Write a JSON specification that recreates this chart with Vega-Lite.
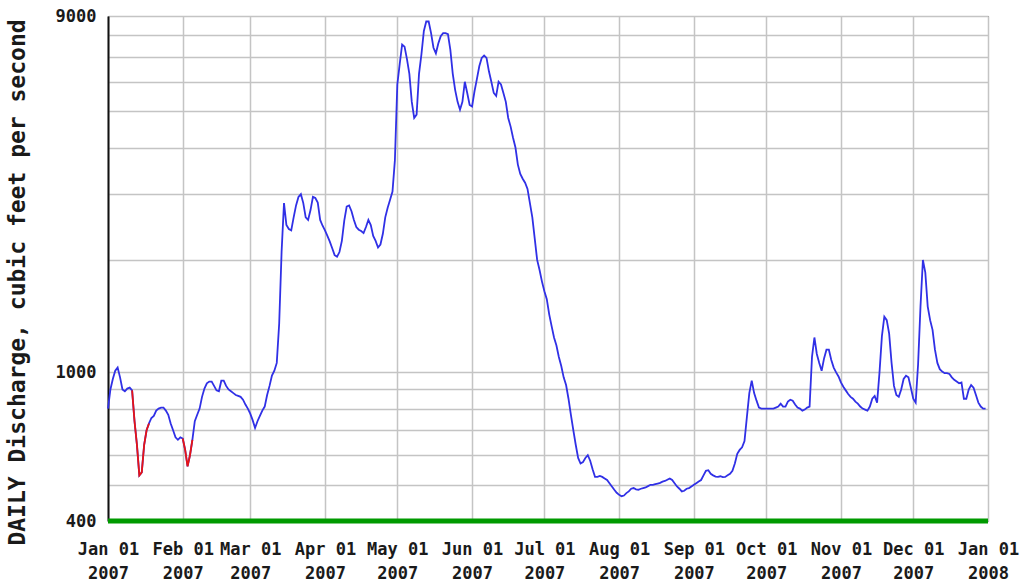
{
 "$schema": "https://vega.github.io/schema/vega-lite/v6.json",
 "width": 880,
 "height": 505,
 "autosize": "none",
 "padding": {"left": 108, "top": 16, "right": 34, "bottom": 66},
 "background": "white",
 "config": {"view": {"stroke": "#444", "strokeWidth": 1}, "font": "DejaVu Sans Mono"},
 "data": {"values": [
{"date":"2007-01-01","cfs":800},{"date":"2007-01-02","cfs":900},{"date":"2007-01-03","cfs":960},{"date":"2007-01-04","cfs":1010},{"date":"2007-01-05","cfs":1030},{"date":"2007-01-06","cfs":970},{"date":"2007-01-07","cfs":900},{"date":"2007-01-08","cfs":890},{"date":"2007-01-09","cfs":905},{"date":"2007-01-10","cfs":910},
{"date":"2007-01-11","cfs":895,"seg":"a"},{"date":"2007-01-12","cfs":740,"seg":"a"},{"date":"2007-01-13","cfs":640,"seg":"a"},{"date":"2007-01-14","cfs":530,"seg":"a"},{"date":"2007-01-15","cfs":540,"seg":"a"},{"date":"2007-01-16","cfs":640,"seg":"a"},{"date":"2007-01-17","cfs":700,"seg":"a"},{"date":"2007-01-18","cfs":730,"seg":"a"},{"date":"2007-01-19","cfs":755},{"date":"2007-01-20","cfs":765},
{"date":"2007-01-21","cfs":790},{"date":"2007-01-22","cfs":800},{"date":"2007-01-23","cfs":805},{"date":"2007-01-24","cfs":805},{"date":"2007-01-25","cfs":790},{"date":"2007-01-26","cfs":770},{"date":"2007-01-27","cfs":730},{"date":"2007-01-28","cfs":700},{"date":"2007-01-29","cfs":670},{"date":"2007-01-30","cfs":660},{"date":"2007-01-31","cfs":670},
{"date":"2007-02-01","cfs":665,"seg":"b"},{"date":"2007-02-02","cfs":620,"seg":"b"},{"date":"2007-02-03","cfs":560,"seg":"b"},{"date":"2007-02-04","cfs":600,"seg":"b"},{"date":"2007-02-05","cfs":660,"seg":"b"},{"date":"2007-02-06","cfs":740},{"date":"2007-02-07","cfs":770},{"date":"2007-02-08","cfs":800},{"date":"2007-02-09","cfs":860},{"date":"2007-02-10","cfs":905},
{"date":"2007-02-11","cfs":935},{"date":"2007-02-12","cfs":945},{"date":"2007-02-13","cfs":945},{"date":"2007-02-14","cfs":920},{"date":"2007-02-15","cfs":895},{"date":"2007-02-16","cfs":890},{"date":"2007-02-17","cfs":950},{"date":"2007-02-18","cfs":950},{"date":"2007-02-19","cfs":920},{"date":"2007-02-20","cfs":900},
{"date":"2007-02-21","cfs":890},{"date":"2007-02-22","cfs":880},{"date":"2007-02-23","cfs":870},{"date":"2007-02-24","cfs":865},{"date":"2007-02-25","cfs":860},{"date":"2007-02-26","cfs":845},{"date":"2007-02-27","cfs":820},{"date":"2007-02-28","cfs":800},
{"date":"2007-03-01","cfs":775},{"date":"2007-03-02","cfs":745},{"date":"2007-03-03","cfs":710},{"date":"2007-03-04","cfs":740},{"date":"2007-03-05","cfs":765},{"date":"2007-03-06","cfs":790},{"date":"2007-03-07","cfs":810},{"date":"2007-03-08","cfs":870},{"date":"2007-03-09","cfs":920},{"date":"2007-03-10","cfs":980},
{"date":"2007-03-11","cfs":1010},{"date":"2007-03-12","cfs":1060},{"date":"2007-03-13","cfs":1350},{"date":"2007-03-14","cfs":2100},{"date":"2007-03-15","cfs":2840},{"date":"2007-03-16","cfs":2480},{"date":"2007-03-17","cfs":2420},{"date":"2007-03-18","cfs":2400},{"date":"2007-03-19","cfs":2600},{"date":"2007-03-20","cfs":2800},
{"date":"2007-03-21","cfs":2950},{"date":"2007-03-22","cfs":3000},{"date":"2007-03-23","cfs":2840},{"date":"2007-03-24","cfs":2600},{"date":"2007-03-25","cfs":2560},{"date":"2007-03-26","cfs":2720},{"date":"2007-03-27","cfs":2950},{"date":"2007-03-28","cfs":2930},{"date":"2007-03-29","cfs":2850},{"date":"2007-03-30","cfs":2560},{"date":"2007-03-31","cfs":2470},
{"date":"2007-04-01","cfs":2400},{"date":"2007-04-02","cfs":2320},{"date":"2007-04-03","cfs":2240},{"date":"2007-04-04","cfs":2150},{"date":"2007-04-05","cfs":2060},{"date":"2007-04-06","cfs":2040},{"date":"2007-04-07","cfs":2100},{"date":"2007-04-08","cfs":2250},{"date":"2007-04-09","cfs":2550},{"date":"2007-04-10","cfs":2780},
{"date":"2007-04-11","cfs":2800},{"date":"2007-04-12","cfs":2700},{"date":"2007-04-13","cfs":2560},{"date":"2007-04-14","cfs":2450},{"date":"2007-04-15","cfs":2410},{"date":"2007-04-16","cfs":2390},{"date":"2007-04-17","cfs":2360},{"date":"2007-04-18","cfs":2450},{"date":"2007-04-19","cfs":2560},{"date":"2007-04-20","cfs":2480},
{"date":"2007-04-21","cfs":2320},{"date":"2007-04-22","cfs":2250},{"date":"2007-04-23","cfs":2160},{"date":"2007-04-24","cfs":2200},{"date":"2007-04-25","cfs":2350},{"date":"2007-04-26","cfs":2600},{"date":"2007-04-27","cfs":2760},{"date":"2007-04-28","cfs":2900},{"date":"2007-04-29","cfs":3050},{"date":"2007-04-30","cfs":3700},
{"date":"2007-05-01","cfs":5900},{"date":"2007-05-02","cfs":6700},{"date":"2007-05-03","cfs":7550},{"date":"2007-05-04","cfs":7450},{"date":"2007-05-05","cfs":6900},{"date":"2007-05-06","cfs":6300},{"date":"2007-05-07","cfs":5300},{"date":"2007-05-08","cfs":4800},{"date":"2007-05-09","cfs":4900},{"date":"2007-05-10","cfs":6300},
{"date":"2007-05-11","cfs":7100},{"date":"2007-05-12","cfs":8200},{"date":"2007-05-13","cfs":8700},{"date":"2007-05-14","cfs":8700},{"date":"2007-05-15","cfs":8100},{"date":"2007-05-16","cfs":7400},{"date":"2007-05-17","cfs":7150},{"date":"2007-05-18","cfs":7600},{"date":"2007-05-19","cfs":7950},{"date":"2007-05-20","cfs":8100},
{"date":"2007-05-21","cfs":8100},{"date":"2007-05-22","cfs":8050},{"date":"2007-05-23","cfs":7300},{"date":"2007-05-24","cfs":6300},{"date":"2007-05-25","cfs":5700},{"date":"2007-05-26","cfs":5300},{"date":"2007-05-27","cfs":5050},{"date":"2007-05-28","cfs":5300},{"date":"2007-05-29","cfs":6000},{"date":"2007-05-30","cfs":5600},{"date":"2007-05-31","cfs":5200},
{"date":"2007-06-01","cfs":5150},{"date":"2007-06-02","cfs":5650},{"date":"2007-06-03","cfs":6100},{"date":"2007-06-04","cfs":6600},{"date":"2007-06-05","cfs":6950},{"date":"2007-06-06","cfs":7050},{"date":"2007-06-07","cfs":6950},{"date":"2007-06-08","cfs":6400},{"date":"2007-06-09","cfs":6000},{"date":"2007-06-10","cfs":5600},
{"date":"2007-06-11","cfs":5500},{"date":"2007-06-12","cfs":6000},{"date":"2007-06-13","cfs":5900},{"date":"2007-06-14","cfs":5600},{"date":"2007-06-15","cfs":5300},{"date":"2007-06-16","cfs":4800},{"date":"2007-06-17","cfs":4550},{"date":"2007-06-18","cfs":4250},{"date":"2007-06-19","cfs":4000},{"date":"2007-06-20","cfs":3600},
{"date":"2007-06-21","cfs":3400},{"date":"2007-06-22","cfs":3300},{"date":"2007-06-23","cfs":3220},{"date":"2007-06-24","cfs":3100},{"date":"2007-06-25","cfs":2840},{"date":"2007-06-26","cfs":2600},{"date":"2007-06-27","cfs":2280},{"date":"2007-06-28","cfs":2000},{"date":"2007-06-29","cfs":1880},{"date":"2007-06-30","cfs":1750},
{"date":"2007-07-01","cfs":1650},{"date":"2007-07-02","cfs":1570},{"date":"2007-07-03","cfs":1430},{"date":"2007-07-04","cfs":1330},{"date":"2007-07-05","cfs":1240},{"date":"2007-07-06","cfs":1180},{"date":"2007-07-07","cfs":1100},{"date":"2007-07-08","cfs":1040},{"date":"2007-07-09","cfs":970},{"date":"2007-07-10","cfs":925},
{"date":"2007-07-11","cfs":850},{"date":"2007-07-12","cfs":770},{"date":"2007-07-13","cfs":700},{"date":"2007-07-14","cfs":640},{"date":"2007-07-15","cfs":590},{"date":"2007-07-16","cfs":570},{"date":"2007-07-17","cfs":575},{"date":"2007-07-18","cfs":590},{"date":"2007-07-19","cfs":600},{"date":"2007-07-20","cfs":580},
{"date":"2007-07-21","cfs":550},{"date":"2007-07-22","cfs":525},{"date":"2007-07-23","cfs":525},{"date":"2007-07-24","cfs":528},{"date":"2007-07-25","cfs":525},{"date":"2007-07-26","cfs":520},{"date":"2007-07-27","cfs":515},{"date":"2007-07-28","cfs":505},{"date":"2007-07-29","cfs":495},{"date":"2007-07-30","cfs":485},{"date":"2007-07-31","cfs":476},
{"date":"2007-08-01","cfs":470},{"date":"2007-08-02","cfs":466},{"date":"2007-08-03","cfs":468},{"date":"2007-08-04","cfs":475},{"date":"2007-08-05","cfs":480},{"date":"2007-08-06","cfs":488},{"date":"2007-08-07","cfs":490},{"date":"2007-08-08","cfs":486},{"date":"2007-08-09","cfs":485},{"date":"2007-08-10","cfs":488},
{"date":"2007-08-11","cfs":490},{"date":"2007-08-12","cfs":492},{"date":"2007-08-13","cfs":496},{"date":"2007-08-14","cfs":500},{"date":"2007-08-15","cfs":500},{"date":"2007-08-16","cfs":502},{"date":"2007-08-17","cfs":504},{"date":"2007-08-18","cfs":506},{"date":"2007-08-19","cfs":510},{"date":"2007-08-20","cfs":512},
{"date":"2007-08-21","cfs":516},{"date":"2007-08-22","cfs":520},{"date":"2007-08-23","cfs":515},{"date":"2007-08-24","cfs":505},{"date":"2007-08-25","cfs":495},{"date":"2007-08-26","cfs":488},{"date":"2007-08-27","cfs":480},{"date":"2007-08-28","cfs":482},{"date":"2007-08-29","cfs":488},{"date":"2007-08-30","cfs":490},{"date":"2007-08-31","cfs":495},
{"date":"2007-09-01","cfs":500},{"date":"2007-09-02","cfs":505},{"date":"2007-09-03","cfs":510},{"date":"2007-09-04","cfs":515},{"date":"2007-09-05","cfs":530},{"date":"2007-09-06","cfs":545},{"date":"2007-09-07","cfs":547},{"date":"2007-09-08","cfs":535},{"date":"2007-09-09","cfs":530},{"date":"2007-09-10","cfs":526},
{"date":"2007-09-11","cfs":525},{"date":"2007-09-12","cfs":527},{"date":"2007-09-13","cfs":524},{"date":"2007-09-14","cfs":525},{"date":"2007-09-15","cfs":530},{"date":"2007-09-16","cfs":535},{"date":"2007-09-17","cfs":545},{"date":"2007-09-18","cfs":570},{"date":"2007-09-19","cfs":605},{"date":"2007-09-20","cfs":620},
{"date":"2007-09-21","cfs":630},{"date":"2007-09-22","cfs":655},{"date":"2007-09-23","cfs":760},{"date":"2007-09-24","cfs":880},{"date":"2007-09-25","cfs":950},{"date":"2007-09-26","cfs":880},{"date":"2007-09-27","cfs":840},{"date":"2007-09-28","cfs":805},{"date":"2007-09-29","cfs":800},{"date":"2007-09-30","cfs":800},
{"date":"2007-10-01","cfs":800},{"date":"2007-10-02","cfs":800},{"date":"2007-10-03","cfs":800},{"date":"2007-10-04","cfs":800},{"date":"2007-10-05","cfs":805},{"date":"2007-10-06","cfs":810},{"date":"2007-10-07","cfs":825},{"date":"2007-10-08","cfs":810},{"date":"2007-10-09","cfs":810},{"date":"2007-10-10","cfs":835},
{"date":"2007-10-11","cfs":845},{"date":"2007-10-12","cfs":840},{"date":"2007-10-13","cfs":820},{"date":"2007-10-14","cfs":805},{"date":"2007-10-15","cfs":800},{"date":"2007-10-16","cfs":790},{"date":"2007-10-17","cfs":795},{"date":"2007-10-18","cfs":805},{"date":"2007-10-19","cfs":810},{"date":"2007-10-20","cfs":1100},
{"date":"2007-10-21","cfs":1240},{"date":"2007-10-22","cfs":1120},{"date":"2007-10-23","cfs":1060},{"date":"2007-10-24","cfs":1010},{"date":"2007-10-25","cfs":1090},{"date":"2007-10-26","cfs":1150},{"date":"2007-10-27","cfs":1150},{"date":"2007-10-28","cfs":1080},{"date":"2007-10-29","cfs":1030},{"date":"2007-10-30","cfs":1000},{"date":"2007-10-31","cfs":975},
{"date":"2007-11-01","cfs":940},{"date":"2007-11-02","cfs":915},{"date":"2007-11-03","cfs":895},{"date":"2007-11-04","cfs":875},{"date":"2007-11-05","cfs":860},{"date":"2007-11-06","cfs":850},{"date":"2007-11-07","cfs":835},{"date":"2007-11-08","cfs":825},{"date":"2007-11-09","cfs":810},{"date":"2007-11-10","cfs":800},
{"date":"2007-11-11","cfs":795},{"date":"2007-11-12","cfs":790},{"date":"2007-11-13","cfs":810},{"date":"2007-11-14","cfs":850},{"date":"2007-11-15","cfs":865},{"date":"2007-11-16","cfs":830},{"date":"2007-11-17","cfs":1000},{"date":"2007-11-18","cfs":1250},{"date":"2007-11-19","cfs":1410},{"date":"2007-11-20","cfs":1380},
{"date":"2007-11-21","cfs":1270},{"date":"2007-11-22","cfs":1060},{"date":"2007-11-23","cfs":920},{"date":"2007-11-24","cfs":870},{"date":"2007-11-25","cfs":860},{"date":"2007-11-26","cfs":900},{"date":"2007-11-27","cfs":960},{"date":"2007-11-28","cfs":980},{"date":"2007-11-29","cfs":970},{"date":"2007-11-30","cfs":910},
{"date":"2007-12-01","cfs":850},{"date":"2007-12-02","cfs":830},{"date":"2007-12-03","cfs":1050},{"date":"2007-12-04","cfs":1500},{"date":"2007-12-05","cfs":2000},{"date":"2007-12-06","cfs":1850},{"date":"2007-12-07","cfs":1500},{"date":"2007-12-08","cfs":1380},{"date":"2007-12-09","cfs":1300},{"date":"2007-12-10","cfs":1150},
{"date":"2007-12-11","cfs":1060},{"date":"2007-12-12","cfs":1020},{"date":"2007-12-13","cfs":1005},{"date":"2007-12-14","cfs":995},{"date":"2007-12-15","cfs":995},{"date":"2007-12-16","cfs":990},{"date":"2007-12-17","cfs":970},{"date":"2007-12-18","cfs":955},{"date":"2007-12-19","cfs":945},{"date":"2007-12-20","cfs":935},
{"date":"2007-12-21","cfs":940},{"date":"2007-12-22","cfs":850},{"date":"2007-12-23","cfs":850},{"date":"2007-12-24","cfs":900},{"date":"2007-12-25","cfs":925},{"date":"2007-12-26","cfs":910},{"date":"2007-12-27","cfs":870},{"date":"2007-12-28","cfs":830},{"date":"2007-12-29","cfs":810},{"date":"2007-12-30","cfs":800},{"date":"2007-12-31","cfs":800}
 ]},
 "encoding": {
  "x": {"field": "date", "type": "temporal",
        "scale": {"type": "utc", "domain": [{"year": 2007, "month": 1, "date": 1, "utc": true}, {"year": 2008, "month": 1, "date": 1, "utc": true}]},
        "axis": {"title": null, "tickCount": {"interval": "month", "step": 1},
                 "labelExpr": "[utcFormat(datum.value, '%b %d'), utcFormat(datum.value, '%Y')]",
                 "labelFont": "DejaVu Sans Mono", "labelFontSize": 17, "labelFontWeight": "bold", "labelColor": "#1a1a1a",
                 "labelLineHeight": 24, "labelPadding": 20, "labelOverlap": false, "labelBound": false, "labelFlush": false,
                 "ticks": false, "domain": false, "grid": true, "gridColor": "#c4c4c4", "gridWidth": 1.5}},
  "y": {"field": "cfs", "type": "quantitative",
        "scale": {"type": "log", "domain": [400, 9000], "nice": false},
        "axis": {"title": "DAILY Discharge, cubic feet per second",
                 "values": [400, 500, 600, 700, 800, 900, 1000, 2000, 3000, 4000, 5000, 6000, 7000, 8000, 9000],
                 "labelExpr": "datum.value == 400 || datum.value == 1000 || datum.value == 9000 ? format(datum.value, 'd') : ''",
                 "labelFont": "DejaVu Sans Mono", "labelFontSize": 17, "labelFontWeight": "bold", "labelColor": "#1a1a1a",
                 "labelPadding": 12, "ticks": false, "domain": true, "domainColor": "#111", "domainWidth": 2,
                 "grid": true, "gridColor": "#c4c4c4", "gridWidth": 1.5,
                 "titleFont": "DejaVu Sans Mono", "titleFontSize": 23, "titleFontWeight": "bold", "titleColor": "#1a1a1a", "titlePadding": 26, "titleY": 266}}
 },
 "layer": [
  {"mark": {"type": "line", "color": "#3030e6", "strokeWidth": 1.8}},
  {"transform": [{"filter": "datum.seg"}],
   "mark": {"type": "line", "color": "#e81414", "strokeWidth": 1.8},
   "encoding": {"detail": {"field": "seg"}}},
  {"data": {"values": [{"start": "2007-01-01", "end": "2008-01-01", "level": 400}]},
   "mark": {"type": "rule", "color": "#009a00", "strokeWidth": 5},
   "encoding": {"x": {"field": "start", "type": "temporal"}, "x2": {"field": "end"}, "y": {"field": "level", "type": "quantitative"}}}
 ]
}
